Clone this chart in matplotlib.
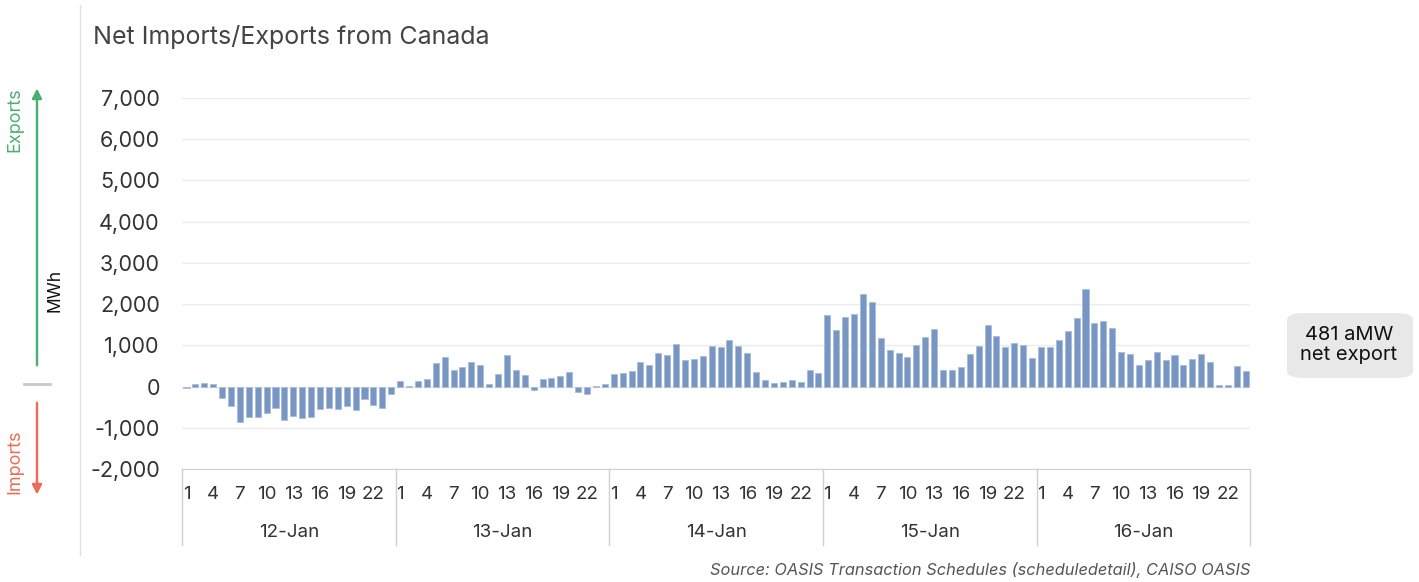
import numpy as np
import matplotlib.pyplot as plt
from matplotlib.patches import FancyBboxPatch

plt.rcParams['font.family'] = ['Inter', 'DejaVu Sans']

days = ['12-Jan', '13-Jan', '14-Jan', '15-Jan', '16-Jan']
hour_labels = [1, 4, 7, 10, 13, 16, 19, 22]

# net MWh per hour, positive = export
jan12 = [-40, 70, 80, 55, -290, -470, -850, -740, -730, -650, -530, -815,
         -720, -775, -740, -540, -510, -550, -470, -570, -305, -450, -510, -170]
jan13 = [130, 15, 140, 195, 565, 710, 410, 470, 590, 530, 50, 315,
         775, 400, 290, -95, 185, 210, 265, 355, -130, -175, 25, 50]
jan14 = [315, 340, 365, 605, 515, 820, 775, 1030, 655, 675, 750, 990,
         970, 1130, 985, 805, 345, 155, 75, 120, 155, 115, 395, 340]
jan15 = [1740, 1365, 1695, 1765, 2250, 2050, 1180, 895, 815, 710, 1000, 1195,
         1395, 410, 410, 475, 790, 985, 1490, 1225, 960, 1065, 1015, 685]
jan16 = [950, 960, 1120, 1340, 1660, 2355, 1540, 1590, 1420, 840, 790, 530,
         655, 845, 635, 765, 530, 670, 790, 590, 30, 30, 500, 380]

values = np.array(jan12 + jan13 + jan14 + jan15 + jan16)
x = np.arange(len(values))

fig = plt.figure(figsize=(14.19, 5.82), dpi=100)
ax = fig.add_axes([0.1283, 0.1942, 0.7527, 0.6374])

ax.bar(x, values, width=0.68, color='#7896C4', edgecolor='#A9BEDD', linewidth=0.6, zorder=3)

ax.set_xlim(-0.5, len(values) - 0.5)
ax.set_ylim(-2000, 7000)
ax.set_yticks(range(-2000, 7001, 1000))
ax.set_yticklabels([f'{v:,}' for v in range(-2000, 7001, 1000)])
ax.grid(axis='y', color='#EBEBEB', linewidth=1, zorder=0)
for s in ['top', 'right', 'left']:
    ax.spines[s].set_visible(False)
ax.spines['bottom'].set_color('#D0D0D0')
ax.tick_params(axis='y', length=0, pad=16, labelsize=15.5, labelcolor='#333333')

ticks = [d * 24 + h - 1 for d in range(len(days)) for h in hour_labels]
ax.set_xticks(ticks)
ax.set_xticklabels([str(h) for d in days for h in hour_labels])
ax.tick_params(axis='x', length=0, pad=12, labelsize=13.5, labelcolor='#333333')

trans = ax.get_xaxis_transform()
for d in range(len(days) + 1):
    ax.plot([d * 24 - 0.5] * 2, [0, -0.205], transform=trans, color='#D0D0D0',
            linewidth=1, clip_on=False)
for d, name in enumerate(days):
    ax.text(d * 24 + 11.5, -0.17, name, transform=trans, ha='center', va='center',
            fontsize=13.5, color='#333333')

fig.text(93 / 1419, 1 - 37 / 582, 'Net Imports/Exports from Canada', ha='left', va='center',
         fontsize=18, color='#444444')

# left side annotations
fig.add_artist(plt.Line2D([80 / 1419] * 2, [1 - 5 / 582, 1 - 555 / 582], color='#E0E0E0', linewidth=1))
fig.add_artist(plt.Line2D([24 / 1419, 50 / 1419], [1 - 384 / 582] * 2, color='#C8C8C8', linewidth=2))
arrow_style = dict(arrowstyle='-|>', mutation_scale=14, linewidth=1.6)
fig.add_artist(plt.annotate('', xy=(37 / 1419, 1 - 86 / 582), xytext=(37 / 1419, 1 - 368 / 582),
                            xycoords='figure fraction',
                            arrowprops=dict(arrow_style, color='#4CAF72')))
fig.add_artist(plt.annotate('', xy=(37 / 1419, 1 - 497 / 582), xytext=(37 / 1419, 1 - 400 / 582),
                            xycoords='figure fraction',
                            arrowprops=dict(arrow_style, color='#EE6B55')))
fig.text(15 / 1419, 1 - 120 / 582, 'Exports', rotation=90, ha='center', va='center',
         fontsize=13, color='#4CAF72')
fig.text(15 / 1419, 1 - 462 / 582, 'Imports', rotation=90, ha='center', va='center',
         fontsize=13, color='#EE6B55')
fig.text(55 / 1419, 1 - 290 / 582, 'MWh', rotation=90, ha='center', va='center',
         fontsize=12.5, color='#111111')

# callout box
box = FancyBboxPatch((1287 / 1419, 1 - 378 / 582), 126 / 1419, 65 / 582,
                     boxstyle='round,pad=0,rounding_size=0.012', transform=fig.transFigure,
                     facecolor='#E8E8E8', edgecolor='none')
fig.add_artist(box)
fig.text(1349 / 1419, 1 - 345 / 582, '481 aMW\nnet export', ha='center', va='center',
         fontsize=14.5, color='#111111', linespacing=1.15)

fig.text(1250 / 1419, 1 - 570 / 582, 'Source: OASIS Transaction Schedules (scheduledetail), CAISO OASIS',
         ha='right', va='center', fontsize=11.8, style='italic', color='#555555')

fig.savefig('out.png', dpi=100)
